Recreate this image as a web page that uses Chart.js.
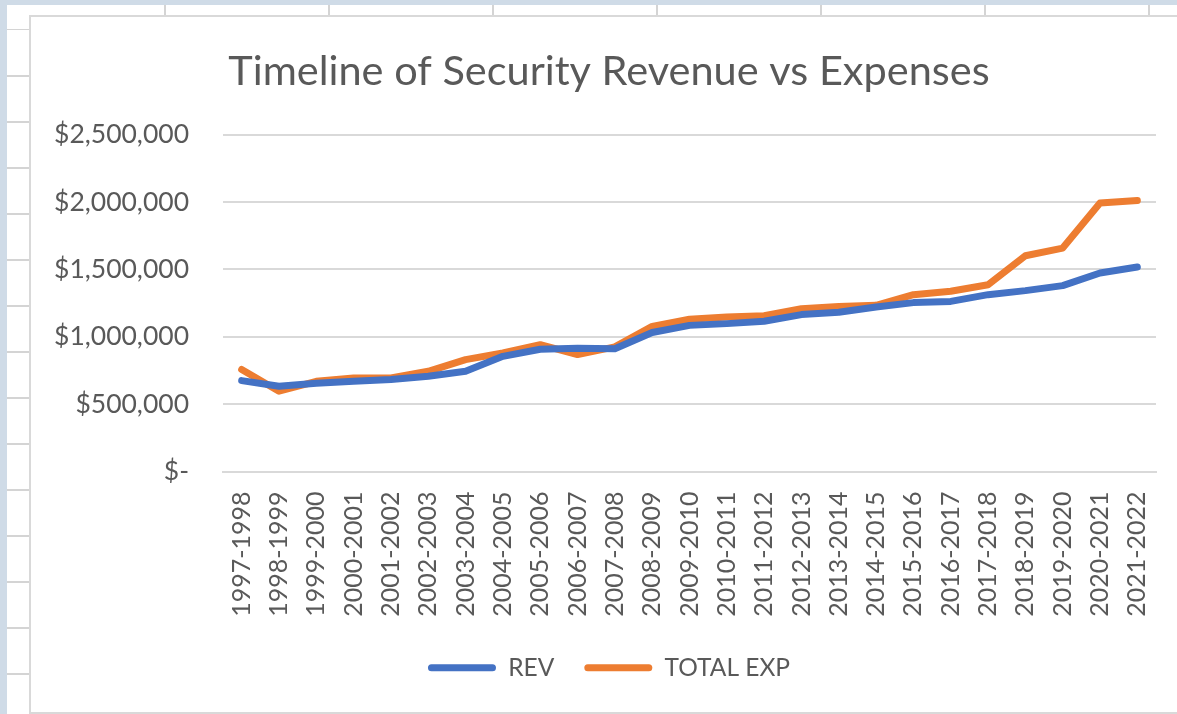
<!DOCTYPE html>
<html>
<head>
<meta charset="utf-8">
<script src="https://cdn.jsdelivr.net/npm/chart.js@4/dist/chart.umd.min.js"></script>
<style>
  html, body { margin: 0; padding: 0; width: 1177px; height: 714px; overflow: hidden; background: #cfdbe7; }
  #sheet {
    position: absolute; left: 7px; top: 5px; width: 1180px; height: 720px;
    background-color: #ffffff;
    background-image:
      repeating-linear-gradient(to right, transparent 0px, transparent 157px, #d4d4d4 157px, #d4d4d4 158.5px, transparent 158.5px, transparent 164px),
      repeating-linear-gradient(to bottom, transparent 0px, transparent 24px, #d4d4d4 24px, #d4d4d4 25.5px, transparent 25.5px, transparent 46px);
  }
  #box {
    position: absolute; left: 29px; top: 15px; width: 1170px; height: 695px;
    border: 2px solid #d9d9d9; background: #ffffff; overflow: hidden;
  }
  #c { position: absolute; left: 0px; top: 0px; }
</style>
</head>
<body>
<div id="sheet"></div>
<div id="box"><canvas id="c" width="1158" height="673"></canvas></div>
<script>
const categories = ["1997-1998","1998-1999","1999-2000","2000-2001","2001-2002","2002-2003","2003-2004","2004-2005","2005-2006","2006-2007","2007-2008","2008-2009","2009-2010","2010-2011","2011-2012","2012-2013","2013-2014","2014-2015","2015-2016","2016-2017","2017-2018","2018-2019","2019-2020","2020-2021","2021-2022"];
const revValues = [675000, 633000, 655000, 670000, 683000, 707000, 745000, 855000, 908000, 916000, 912000, 1032000, 1085000, 1098000, 1116000, 1165000, 1182000, 1222000, 1254000, 1263000, 1313000, 1343000, 1380000, 1474000, 1518000];
const expValues = [757000, 596000, 670000, 695000, 695000, 744000, 831000, 880000, 942000, 868000, 925000, 1078000, 1130000, 1148000, 1157000, 1209000, 1226000, 1234000, 1313000, 1338000, 1387000, 1602000, 1659000, 1993000, 2012000];
const seriesNames = ["REV", "TOTAL EXP"];
const seriesColors = ["#4472c4", "#ed7d31"];

const FONT = "Lato, 'Open Sans', sans-serif";
const TXT = "#595959";

new Chart(document.getElementById('c'), {
  type: 'line',
  data: {
    labels: categories,
    datasets: [
      { label: seriesNames[0], data: revValues, borderColor: seriesColors[0], backgroundColor: seriesColors[0], borderWidth: 7, pointRadius: 0, tension: 0, borderCapStyle: 'round', borderJoinStyle: 'round' },
      { label: seriesNames[1], data: expValues, borderColor: seriesColors[1], backgroundColor: seriesColors[1], borderWidth: 7, pointRadius: 0, tension: 0, borderCapStyle: 'round', borderJoinStyle: 'round' }
    ]
  },
  options: {
    responsive: false,
    animation: false,
    devicePixelRatio: 1,
    layout: { padding: { top: 0, left: 0, right: 2, bottom: 0 } },
    plugins: {
      title: {
        display: true,
        text: 'Timeline of Security Revenue vs Expenses',
        color: TXT,
        font: { family: FONT, size: 41.5, weight: 'normal', lineHeight: 1.2 },
        padding: { top: 30, bottom: 38 }
      },
      legend: {
        position: 'bottom',
        labels: {
          color: TXT,
          font: { family: FONT, size: 24.5 },
          boxWidth: 68,
          boxHeight: 7,
          padding: 30,
          useBorderRadius: true,
          borderRadius: 3.5,
          generateLabels: (chart) => chart.data.datasets.map((ds, i) => ({
            text: ds.label, fillStyle: ds.borderColor, strokeStyle: ds.borderColor,
            lineWidth: 0, hidden: false, datasetIndex: i, fontColor: TXT, borderRadius: 3.5
          }))
        }
      },
      tooltip: { enabled: false }
    },
    scales: {
      x: {
        offset: true,
        grid: { display: false, drawTicks: false, offset: true },
        border: { display: true, color: '#d9d9d9', width: 2 },
        ticks: { color: TXT, font: { family: FONT, size: 25 }, minRotation: 90, maxRotation: 90, autoSkip: false, padding: 20 },
        afterFit: (s) => { s.height = 154; s.paddingLeft = 0; s.paddingRight = 33; }
      },
      y: {
        min: 0, max: 2500000,
        grid: { color: '#d9d9d9', lineWidth: 2, drawTicks: false },
        border: { display: false },
        ticks: {
          stepSize: 500000, color: TXT, font: { family: FONT, size: 26.5 }, padding: 34,
          callback: (v) => v === 0 ? '$-' : '$' + Number(v).toLocaleString('en-US')
        },
        afterFit: (s) => { s.width = 192; }
      }
    }
  }
});
</script>
</body>
</html>
